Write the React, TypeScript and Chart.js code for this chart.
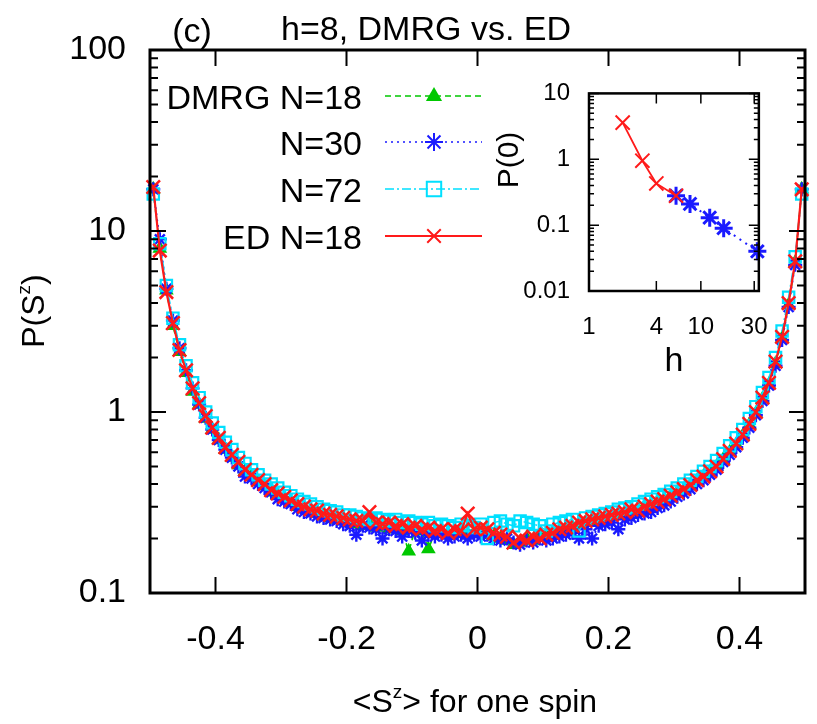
import React, { useEffect, useRef } from 'react';
import { Chart, registerables } from 'chart.js';

Chart.register(...registerables);

const FONT = '"Liberation Sans", Arial, Helvetica, sans-serif';

// ---------- main panel data ----------
const XS = [
  -0.495, -0.485, -0.475, -0.465, -0.455, -0.445, -0.435, -0.425, -0.415, -0.405,
  -0.395, -0.385, -0.375, -0.365, -0.355, -0.345, -0.335, -0.325, -0.315, -0.305,
  -0.295, -0.285, -0.275, -0.265, -0.255, -0.245, -0.235, -0.225, -0.215, -0.205,
  -0.195, -0.185, -0.175, -0.165, -0.155, -0.145, -0.135, -0.125, -0.115, -0.105,
  -0.095, -0.085, -0.075, -0.065, -0.055, -0.045, -0.035, -0.025, -0.015, -0.005,
  0.005, 0.015, 0.025, 0.035, 0.045, 0.055, 0.065, 0.075, 0.085, 0.095,
  0.105, 0.115, 0.125, 0.135, 0.145, 0.155, 0.165, 0.175, 0.185, 0.195,
  0.205, 0.215, 0.225, 0.235, 0.245, 0.255, 0.265, 0.275, 0.285, 0.295,
  0.305, 0.315, 0.325, 0.335, 0.345, 0.355, 0.365, 0.375, 0.385, 0.395,
  0.405, 0.415, 0.425, 0.435, 0.445, 0.455, 0.465, 0.475, 0.485, 0.495,
];

const DMRG18 = [
  17, 8.0, 4.7, 3.0, 2.15, 1.65, 1.3, 1.1, 0.92, 0.8,
  0.7, 0.62, 0.56, 0.51, 0.47, 0.44, 0.41, 0.39, 0.36, 0.345,
  0.33, 0.315, 0.3, 0.29, 0.28, 0.275, 0.265, 0.26, 0.255, 0.25,
  0.245, 0.24, 0.235, 0.24, 0.23, 0.235, 0.225, 0.23, 0.22, 0.17,
  0.225, 0.22, 0.175, 0.215, 0.22, 0.21, 0.215, 0.22, 0.21, 0.215,
  0.22, 0.21, 0.205, 0.2, 0.195, 0.185, 0.19, 0.2, 0.195, 0.205,
  0.21, 0.215, 0.22, 0.225, 0.23, 0.24, 0.245, 0.25, 0.255, 0.26,
  0.265, 0.27, 0.275, 0.28, 0.29, 0.3, 0.305, 0.32, 0.33, 0.345,
  0.36, 0.37, 0.39, 0.415, 0.44, 0.465, 0.5, 0.545, 0.6, 0.66,
  0.74, 0.85, 0.98, 1.18, 1.42, 1.85, 2.55, 3.9, 6.7, 17,
];

const DMRG30 = [
  17, 9.0, 4.8, 3.2, 2.25, 1.7, 1.35, 1.1, 0.93, 0.8,
  0.7, 0.62, 0.56, 0.5, 0.44, 0.43, 0.4, 0.38, 0.36, 0.33,
  0.32, 0.31, 0.29, 0.28, 0.275, 0.265, 0.26, 0.255, 0.25, 0.24,
  0.235, 0.21, 0.235, 0.23, 0.225, 0.2, 0.225, 0.22, 0.205, 0.22,
  0.215, 0.195, 0.21, 0.205, 0.21, 0.2, 0.205, 0.21, 0.2, 0.21,
  0.205, 0.21, 0.2, 0.195, 0.2, 0.19, 0.185, 0.195, 0.19, 0.2,
  0.195, 0.2, 0.205, 0.21, 0.215, 0.2, 0.225, 0.2, 0.235, 0.24,
  0.245, 0.225, 0.255, 0.26, 0.27, 0.275, 0.28, 0.295, 0.305, 0.32,
  0.34, 0.355, 0.375, 0.4, 0.42, 0.45, 0.48, 0.53, 0.58, 0.64,
  0.72, 0.82, 0.96, 1.15, 1.4, 1.8, 2.5, 3.8, 6.5, 17,
];

const DMRG72 = [
  16, 8.5, 5.0, 3.3, 2.35, 1.8, 1.45, 1.2, 1.0, 0.87,
  0.77, 0.68, 0.62, 0.56, 0.52, 0.48, 0.45, 0.42, 0.4, 0.38,
  0.36, 0.345, 0.33, 0.32, 0.31, 0.3, 0.29, 0.285, 0.28, 0.27,
  0.27, 0.265, 0.26, 0.255, 0.26, 0.255, 0.25, 0.255, 0.245, 0.25,
  0.245, 0.24, 0.245, 0.235, 0.24, 0.235, 0.23, 0.24, 0.235, 0.23,
  0.24, 0.2, 0.245, 0.25, 0.24, 0.235, 0.25, 0.245, 0.24, 0.235,
  0.22, 0.24, 0.245, 0.25, 0.255, 0.22, 0.26, 0.265, 0.27, 0.275,
  0.28, 0.29, 0.295, 0.3, 0.31, 0.32, 0.33, 0.34, 0.35, 0.365,
  0.38, 0.4, 0.42, 0.44, 0.47, 0.5, 0.54, 0.59, 0.65, 0.72,
  0.8, 0.92, 1.07, 1.28, 1.55, 2.0, 2.8, 4.3, 7.2, 16,
];

const ED18 = [
  17.5, 7.8, 4.6, 3.1, 2.2, 1.7, 1.35, 1.12, 0.95, 0.82,
  0.72, 0.64, 0.58, 0.53, 0.48, 0.45, 0.42, 0.4, 0.37, 0.355,
  0.34, 0.325, 0.31, 0.3, 0.29, 0.285, 0.275, 0.27, 0.265, 0.26,
  0.255, 0.25, 0.25, 0.28, 0.245, 0.24, 0.245, 0.235, 0.24, 0.23,
  0.235, 0.225, 0.23, 0.22, 0.225, 0.215, 0.225, 0.22, 0.275, 0.225,
  0.23, 0.225, 0.215, 0.21, 0.205, 0.19, 0.2, 0.195, 0.205, 0.2,
  0.21, 0.215, 0.225, 0.23, 0.235, 0.245, 0.25, 0.255, 0.26, 0.265,
  0.27, 0.275, 0.28, 0.29, 0.285, 0.3, 0.31, 0.32, 0.33, 0.345,
  0.36, 0.375, 0.395, 0.42, 0.44, 0.47, 0.5, 0.55, 0.61, 0.67,
  0.75, 0.86, 1.0, 1.2, 1.45, 1.9, 2.6, 4.0, 6.8, 17,
];

const LEGEND_LABELS = ['DMRG N=18', 'N=30', 'N=72', 'ED N=18'];
const TITLE_TEXT = 'h=8, DMRG vs. ED';
const PANEL_TAG = '(c)';
const X_TICKS = [-0.4, -0.2, 0, 0.2, 0.4];
const Y_TICKS = [0.1, 1, 10, 100];
const Y_MINOR = [0.2, 0.3, 0.4, 0.5, 0.6, 0.7, 0.8, 0.9, 2, 3, 4, 5, 6, 7, 8, 9, 20, 30, 40, 50, 60, 70, 80, 90];
const Y_TITLE_PARTS: [string, boolean][] = [['P(S', false], ['z', true], [')', false]];
const X_TITLE_PARTS: [string, boolean][] = [['<S', false], ['z', true], ['> for one spin', false]];

// ---------- inset data ----------
const H_ED = [2, 3, 4, 6];
const P0_ED = [3.6, 0.95, 0.43, 0.28];
const H_DMRG = [6, 8, 12, 16, 32];
const P0_DMRG = [0.28, 0.21, 0.13, 0.09, 0.04];
const H_TICKS = [1, 4, 10, 30];
const P0_TICKS = [0.01, 0.1, 1, 10];
const P0_MINOR = [0.02, 0.03, 0.04, 0.05, 0.06, 0.07, 0.08, 0.09, 0.2, 0.3, 0.4, 0.5, 0.6, 0.7, 0.8, 0.9, 2, 3, 4, 5, 6, 7, 8, 9];
const INSET_Y_TITLE = 'P(0)';
const INSET_X_TITLE = 'h';

const GREEN = '#00c800';
const BLUE = '#1a1aff';
const CYAN = '#00e0ff';
const RED = '#ff1a1a';

function drawMarker(ctx: CanvasRenderingContext2D, style: string, x: number, y: number, r: number, color: string, lw: number) {
  ctx.save();
  ctx.setLineDash([]);
  ctx.strokeStyle = color;
  ctx.fillStyle = color;
  ctx.lineWidth = lw;
  ctx.beginPath();
  if (style === 'triangle') {
    ctx.moveTo(x, y - r);
    ctx.lineTo(x + r * 0.9, y + r * 0.55);
    ctx.lineTo(x - r * 0.9, y + r * 0.55);
    ctx.closePath();
    ctx.fill();
  } else if (style === 'star') {
    ctx.moveTo(x - r, y); ctx.lineTo(x + r, y);
    ctx.moveTo(x, y - r); ctx.lineTo(x, y + r);
    const d = r * 0.72;
    ctx.moveTo(x - d, y - d); ctx.lineTo(x + d, y + d);
    ctx.moveTo(x - d, y + d); ctx.lineTo(x + d, y - d);
    ctx.stroke();
  } else if (style === 'rect') {
    const s = r * 0.8;
    ctx.rect(x - s, y - s, 2 * s, 2 * s);
    ctx.stroke();
  } else {
    const d = r * 0.75;
    ctx.moveTo(x - d, y - d); ctx.lineTo(x + d, y + d);
    ctx.moveTo(x - d, y + d); ctx.lineTo(x + d, y - d);
    ctx.stroke();
  }
  ctx.restore();
}

function drawParts(ctx: CanvasRenderingContext2D, parts: [string, boolean][], cx: number, cy: number, size: number, rotate: boolean) {
  ctx.save();
  ctx.translate(cx, cy);
  if (rotate) ctx.rotate(-Math.PI / 2);
  const sup = Math.round(size * 0.6);
  let total = 0;
  const widths: number[] = [];
  for (const [t, s] of parts) {
    ctx.font = `${s ? sup : size}px ${FONT}`;
    const w = ctx.measureText(t).width;
    widths.push(w);
    total += w;
  }
  let x = -total / 2;
  ctx.fillStyle = '#000';
  ctx.textBaseline = 'alphabetic';
  ctx.textAlign = 'left';
  const base = size * 0.36;
  parts.forEach(([t, s], i) => {
    ctx.font = `${s ? sup : size}px ${FONT}`;
    ctx.fillText(t, x, s ? base - size * 0.42 : base);
    x += widths[i];
  });
  ctx.restore();
}

function frameTicks(chart: any, o: any) {
  const { ctx, chartArea } = chart;
  const { left, right, top, bottom } = chartArea;
  const xs = chart.scales.x;
  const ys = chart.scales.y;
  ctx.save();
  ctx.setLineDash([]);
  ctx.strokeStyle = '#000';
  ctx.lineWidth = o.tickWidth;
  ctx.beginPath();
  for (const v of o.xMajor) {
    const p = xs.getPixelForValue(v);
    ctx.moveTo(p, bottom); ctx.lineTo(p, bottom - o.major);
    ctx.moveTo(p, top); ctx.lineTo(p, top + o.major);
  }
  for (const v of o.yMajor) {
    const p = ys.getPixelForValue(v);
    ctx.moveTo(left, p); ctx.lineTo(left + o.major, p);
    ctx.moveTo(right, p); ctx.lineTo(right - o.major, p);
  }
  for (const v of o.yMinor) {
    const p = ys.getPixelForValue(v);
    ctx.moveTo(left, p); ctx.lineTo(left + o.minor, p);
    ctx.moveTo(right, p); ctx.lineTo(right - o.minor, p);
  }
  ctx.stroke();
  ctx.lineWidth = o.frameWidth;
  ctx.strokeRect(left, top, right - left, bottom - top);
  ctx.restore();
}

const mainDecor = {
  id: 'mainDecor',
  afterDatasetsDraw(chart: any) {
    frameTicks(chart, { xMajor: X_TICKS, yMajor: Y_TICKS, yMinor: Y_MINOR, major: 16, minor: 8, tickWidth: 2, frameWidth: 3 });
  },
  afterDraw(chart: any) {
    const { ctx } = chart;
    ctx.save();
    ctx.fillStyle = '#000';
    ctx.textBaseline = 'alphabetic';
    ctx.font = `34px ${FONT}`;
    ctx.textAlign = 'center';
    ctx.fillText(TITLE_TEXT, 426, 40);
    ctx.fillText(PANEL_TAG, 192, 42);
    const rows = [96, 142, 189, 236];
    const legendOrder = [3, 2, 1, 0];
    ctx.font = `34px ${FONT}`;
    ctx.textAlign = 'right';
    LEGEND_LABELS.forEach((label, i) => {
      const ds = chart.data.datasets[legendOrder[i]];
      const y = rows[i];
      ctx.fillStyle = '#000';
      ctx.fillText(label, 362, y + 13);
      ctx.save();
      ctx.strokeStyle = ds.borderColor;
      ctx.lineWidth = ds.borderWidth;
      ctx.setLineDash(ds.borderDash || []);
      ctx.beginPath();
      ctx.moveTo(385, y);
      ctx.lineTo(482, y);
      ctx.stroke();
      ctx.restore();
      drawMarker(ctx, ds.pointStyle, 434, y, 9, ds.borderColor, 2);
    });
    ctx.restore();
    drawParts(ctx, Y_TITLE_PARTS, 32, 311, 32, true);
    drawParts(ctx, X_TITLE_PARTS, 475, 700, 32, false);
  },
};

const insetDecor = {
  id: 'insetDecor',
  afterDatasetsDraw(chart: any) {
    frameTicks(chart, { xMajor: H_TICKS, yMajor: P0_TICKS, yMinor: P0_MINOR, major: 10, minor: 5, tickWidth: 1.5, frameWidth: 2.5 });
  },
  afterDraw(chart: any) {
    const { ctx } = chart;
    ctx.save();
    ctx.translate(40, 100);
    ctx.rotate(-Math.PI / 2);
    ctx.font = `30px ${FONT}`;
    ctx.fillStyle = '#000';
    ctx.textAlign = 'center';
    ctx.textBaseline = 'middle';
    ctx.fillText(INSET_Y_TITLE, 0, 0);
    ctx.restore();
  },
};

export default function App() {
  const mainRef = useRef<HTMLCanvasElement>(null);
  const insetRef = useRef<HTMLCanvasElement>(null);

  useEffect(() => {
    document.body.style.margin = '0';
    const tickFont = { family: FONT, size: 34 };
    const common = (data: number[], color: string, dash: number[], style: string, r: number, order: number, fill: boolean, bw: number, pbw: number) => ({
      data: XS.map((x, i) => ({ x, y: data[i] })),
      borderColor: color,
      backgroundColor: color,
      borderWidth: bw,
      borderDash: dash,
      pointStyle: style,
      pointRadius: r,
      pointBorderWidth: pbw,
      pointBorderColor: color,
      pointBackgroundColor: fill ? color : 'rgba(0,0,0,0)',
      showLine: true,
      tension: 0,
      order,
      clip: false as any,
    });

    const main = new Chart(mainRef.current!, {
      type: 'scatter',
      data: {
        datasets: [
          { label: LEGEND_LABELS[3], ...common(ED18, RED, [], 'crossRot', 9.5, 1, false, 2.2, 2.5) },
          { label: LEGEND_LABELS[2], ...common(DMRG72, CYAN, [9, 3, 2, 3], 'rect', 8, 2, false, 1.6, 2.2) },
          { label: LEGEND_LABELS[1], ...common(DMRG30, BLUE, [2, 4], 'star', 7, 3, false, 1.6, 2.4) },
          { label: LEGEND_LABELS[0], ...common(DMRG18, GREEN, [6, 4], 'triangle', 7, 4, true, 1.6, 1.5) },
        ] as any,
      },
      options: {
        animation: false,
        responsive: false,
        events: [],
        layout: { padding: { top: 50, right: 4, left: 0, bottom: 0 } },
        plugins: { legend: { display: false }, tooltip: { enabled: false }, title: { display: false } },
        scales: {
          x: {
            type: 'linear', min: -0.5, max: 0.5,
            afterBuildTicks: (s: any) => { s.ticks = X_TICKS.map((v) => ({ value: v })); },
            afterFit: (s: any) => { s.height = 131; },
            ticks: { font: tickFont, color: '#000', padding: 26, autoSkip: false, maxRotation: 0, callback: (v: any) => String(v) },
            grid: { display: false, drawTicks: false },
            border: { display: false },
          },
          y: {
            type: 'logarithmic', min: 0.1, max: 100,
            afterBuildTicks: (s: any) => { s.ticks = Y_TICKS.map((v) => ({ value: v })); },
            afterFit: (s: any) => { s.width = 150; },
            ticks: { font: tickFont, color: '#000', padding: 24, autoSkip: false, callback: (v: any) => String(v) },
            grid: { display: false, drawTicks: false },
            border: { display: false },
          },
        },
      } as any,
      plugins: [mainDecor],
    });

    const insetFont = { family: FONT, size: 24 };
    const inset = new Chart(insetRef.current!, {
      type: 'scatter',
      data: {
        datasets: [
          {
            label: 'ED', data: H_ED.map((h, i) => ({ x: h, y: P0_ED[i] })),
            borderColor: RED, backgroundColor: RED, borderWidth: 1.8, showLine: true,
            pointStyle: 'crossRot', pointRadius: 10, pointBorderWidth: 2, order: 1, clip: false,
          },
          {
            label: 'DMRG', data: H_DMRG.map((h, i) => ({ x: h, y: P0_DMRG[i] })),
            borderColor: BLUE, backgroundColor: BLUE, borderWidth: 2, borderDash: [2, 5], showLine: true,
            pointStyle: 'star', pointRadius: 9, pointBorderWidth: 3, order: 2, clip: false,
          },
        ] as any,
      },
      options: {
        animation: false,
        responsive: false,
        events: [],
        layout: { padding: { top: 13, right: 16, left: 0, bottom: 0 } },
        plugins: { legend: { display: false }, tooltip: { enabled: false } },
        scales: {
          x: {
            type: 'logarithmic', min: 1, max: 33,
            afterBuildTicks: (s: any) => { s.ticks = H_TICKS.map((v) => ({ value: v })); },
            afterFit: (s: any) => { s.height = 99; },
            ticks: { font: insetFont, color: '#000', padding: 22, autoSkip: false, maxRotation: 0, callback: (v: any) => String(v) },
            title: { display: true, text: INSET_X_TITLE, font: { family: FONT, size: 34 }, color: '#000', padding: { top: 0, bottom: 8 } },
            grid: { display: false, drawTicks: false },
            border: { display: false },
          },
          y: {
            type: 'logarithmic', min: 0.01, max: 10,
            afterBuildTicks: (s: any) => { s.ticks = P0_TICKS.map((v) => ({ value: v })); },
            afterFit: (s: any) => { s.width = 119; },
            ticks: { font: insetFont, color: '#000', padding: 19, autoSkip: false, callback: (v: any) => String(v) },
            grid: { display: false, drawTicks: false },
            border: { display: false },
          },
        },
      } as any,
      plugins: [insetDecor],
    });

    return () => {
      main.destroy();
      inset.destroy();
    };
  }, []);

  return (
    <div style={{ position: 'relative', width: 817, height: 724, background: '#fff', overflow: 'hidden' }}>
      <canvas ref={mainRef} width={817} height={724} style={{ position: 'absolute', left: 0, top: 0, width: 817, height: 724 }} />
      <canvas ref={insetRef} width={320} height={330} style={{ position: 'absolute', left: 470, top: 60, width: 320, height: 330 }} />
    </div>
  );
}
